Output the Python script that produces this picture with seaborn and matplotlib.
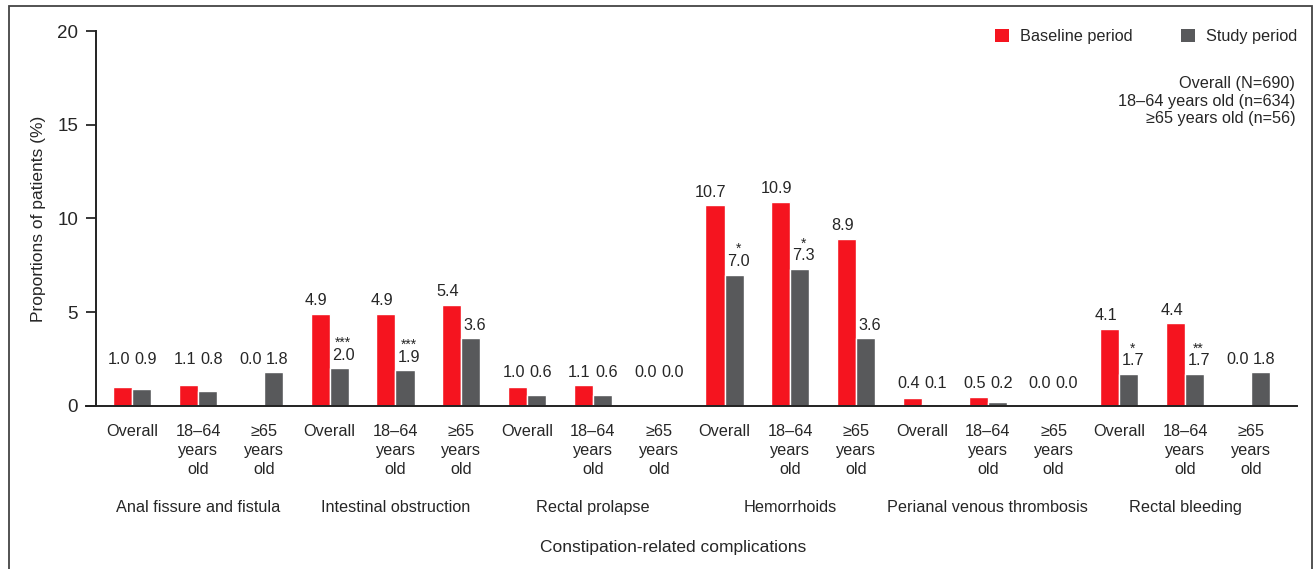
#import libraries
import numpy as np
import pandas as pd
import seaborn as sns
import matplotlib.pyplot as plt
from matplotlib.patches import Rectangle, Patch

# chart data
complications = ["Anal fissure and fistula", "Intestinal obstruction", "Rectal prolapse",
                 "Hemorrhoids", "Perianal venous thrombosis", "Rectal bleeding"]
subgroups = ["Overall", "18–64\nyears\nold", "≥65\nyears\nold"]
baseline = [1.0, 1.1, 0.0, 4.9, 4.9, 5.4, 1.0, 1.1, 0.0,
            10.7, 10.9, 8.9, 0.4, 0.5, 0.0, 4.1, 4.4, 0.0]
study = [0.9, 0.8, 1.8, 2.0, 1.9, 3.6, 0.6, 0.6, 0.0,
         7.0, 7.3, 3.6, 0.1, 0.2, 0.0, 1.7, 1.7, 1.8]
study_sig = ["", "", "", "***", "***", "", "", "", "",
             "*", "*", "", "", "", "", "*", "**", ""]
periods = ["Baseline period", "Study period"]
n_text = "Overall (N=690)\n18–64 years old (n=634)\n≥65 years old (n=56)"

red = "#F5141F"
grey = "#58595B"
fs = 11.7

# long form table for seaborn
slots = [f"{c}|{s}" for c in complications for s in subgroups]
df = pd.DataFrame({
    "slot": slots * 2,
    "period": [periods[0]] * len(slots) + [periods[1]] * len(slots),
    "value": baseline + study,
})

sns.set_style("white")
plt.rcParams["font.family"] = ["Liberation Sans", "DejaVu Sans"]

fig = plt.figure(figsize=(13.16, 5.69), dpi=100)
ax = fig.add_axes([0.073, 0.2865, 0.9126, 0.659])

sns.barplot(data=df, x="slot", y="value", hue="period", order=slots, hue_order=periods,
            palette=[red, grey], width=0.58, saturation=1, ax=ax, legend=False)

ax.set_ylim(0, 20)
ax.set_xlim(-0.55, 17.7)
ax.set_yticks([0, 5, 10, 15, 20])
ax.tick_params(axis="y", labelsize=13.5, length=7, width=1.3, direction="out", left=True, pad=6)
ax.tick_params(axis="x", length=0, labelsize=fs, pad=13)
ax.set_xticks(range(len(slots)))
ax.set_xticklabels(subgroups * len(complications), linespacing=1.35)
ax.set_xlabel("")
ax.set_ylabel("Proportions of patients (%)", fontsize=12.5, labelpad=8)
for side in ["top", "right"]:
    ax.spines[side].set_visible(False)
for side in ["left", "bottom"]:
    ax.spines[side].set_linewidth(1.4)
    ax.spines[side].set_color("#222222")
ax.spines["bottom"].set_bounds(-0.55 - 10 / 66, 17.7)

# value labels; small values are lifted to a common level
for k, cont in enumerate(ax.containers):
    vals = baseline if k == 0 else study
    for i, bar in enumerate(cont):
        g = i // 3
        cat_max = max(baseline[g * 3:g * 3 + 3] + study[g * 3:g * 3 + 3])
        pair_max = max(baseline[i], study[i])
        if cat_max < 2.5:
            base = cat_max
        elif vals[i] == 0:
            base = pair_max
        else:
            base = vals[i]
        xc = bar.get_x() + bar.get_width() / 2 + (-0.06 if k == 0 else 0.06)
        ax.text(xc, base + 0.3, f"{vals[i]:.1f}", ha="center", va="bottom", fontsize=fs)
        if k == 1 and study_sig[i]:
            ax.text(xc, base + 1.0, study_sig[i], ha="center", va="bottom", fontsize=10)

# complication names under each group
for g, name in enumerate(complications):
    ax.text(g * 3 + 1, -0.27, name, transform=ax.get_xaxis_transform(),
            ha="center", va="center", fontsize=fs)
fig.text(0.5115, 0.037, "Constipation-related complications", ha="center", va="center", fontsize=12.5)

# legend and sample sizes
handles = [Patch(facecolor=red, edgecolor="none"), Patch(facecolor=grey, edgecolor="none")]
ax.legend(handles, periods, loc="upper right", bbox_to_anchor=(1.012, 1.045), ncol=2, frameon=False,
          fontsize=fs, handlelength=0.85, handleheight=0.85, handletextpad=0.65, columnspacing=3.0)
ax.text(0.9985, 0.88, n_text, transform=ax.transAxes, ha="right", va="top",
        fontsize=fs, linespacing=1.22)

# outer frame
fig.add_artist(Rectangle((0.0068, -0.05), 0.9905, 1.039, transform=fig.transFigure,
                         fill=False, edgecolor="#444444", linewidth=1.3, clip_on=False))

fig.savefig("out.png", dpi=100)
